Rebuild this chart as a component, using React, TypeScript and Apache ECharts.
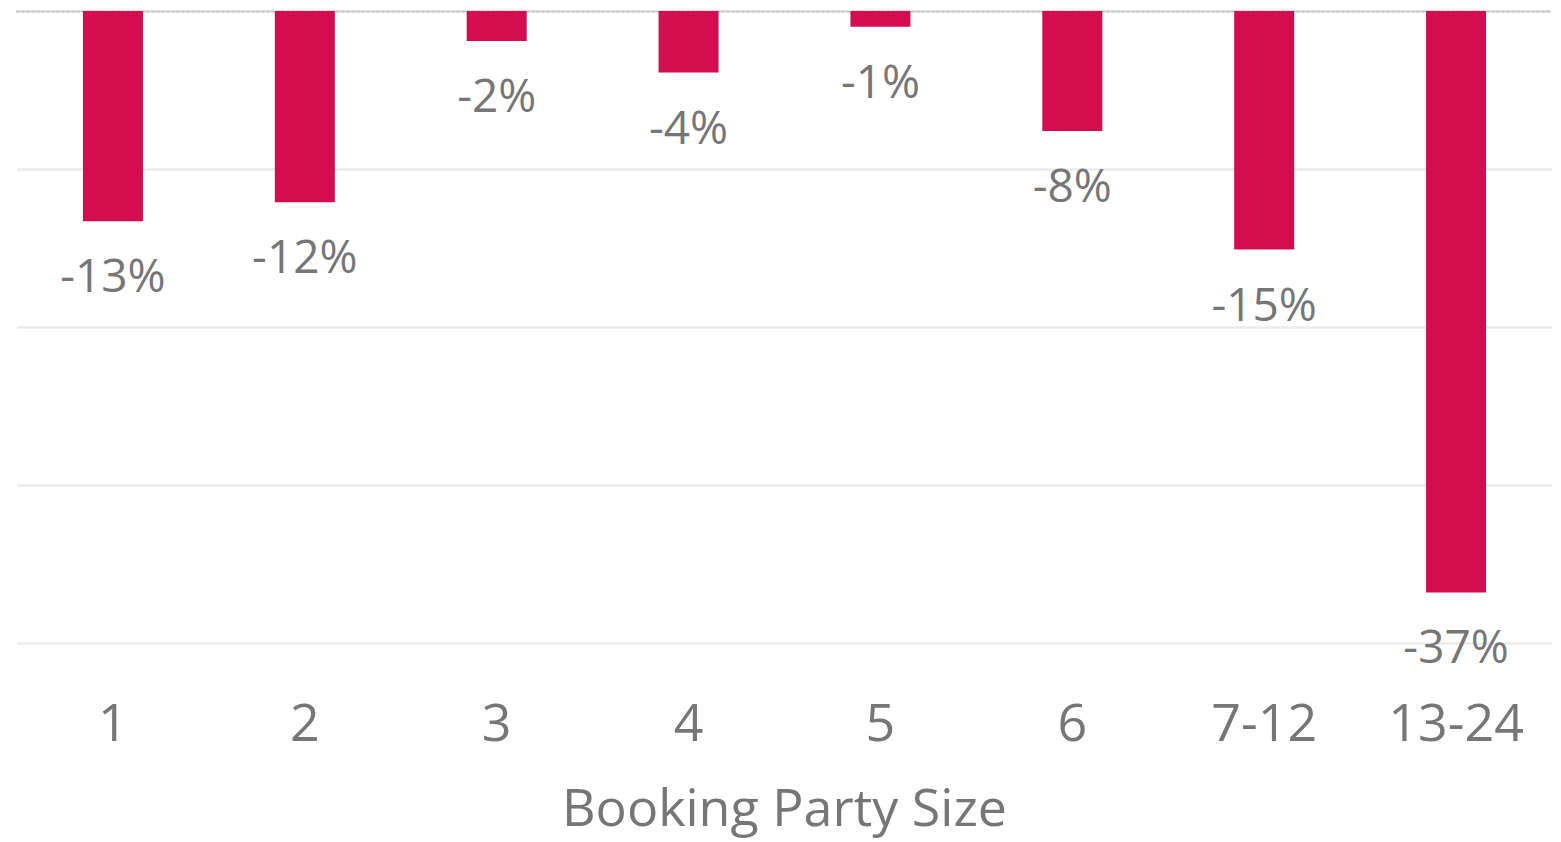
import React, { useEffect, useRef } from "react";
import * as echarts from "echarts";

const categories = ["1", "2", "3", "4", "5", "6", "7-12", "13-24"];
const changePct = [-13.3, -12.1, -1.9, -3.9, -1.0, -7.6, -15.1, -36.8];
const yTicks = [-40, -30, -20, -10, 0];
const axisTitle = "Booking Party Size";

const FONT = "'Open Sans', 'Liberation Sans', sans-serif";
const TEXT = "#767676";
const BAR = "#D40D4F";

export default function App() {
  const ref = useRef<HTMLDivElement>(null);
  useEffect(() => {
    if (!ref.current) return;
    const chart = echarts.init(ref.current, undefined, { renderer: "svg" });
    chart.setOption({
      animation: false,
      backgroundColor: "#ffffff",
      grid: { left: 17, right: 9, top: 11, bottom: 199, containLabel: false },
      xAxis: [
        {
          type: "category",
          data: categories,
          position: "bottom",
          axisLine: { show: false, onZero: false },
          axisTick: { show: false },
          axisLabel: {
            color: TEXT,
            fontFamily: FONT,
            fontSize: 52,
            margin: 51,
          },
          name: axisTitle,
          nameLocation: "middle",
          nameGap: 136,
          nameTextStyle: { color: TEXT, fontFamily: FONT, fontSize: 52 },
        },
        {
          type: "category",
          data: categories,
          position: "top",
          axisLine: {
            show: true,
            onZero: false,
            lineStyle: { color: "#cccccc", width: 2.5, type: "dotted" },
          },
          axisTick: { show: false },
          axisLabel: { show: false },
        },
      ],
      yAxis: {
        type: "value",
        min: yTicks[0],
        max: yTicks[yTicks.length - 1],
        interval: 10,
        axisLine: { show: false },
        axisTick: { show: false },
        axisLabel: { show: false },
        splitLine: {
          show: true,
          lineStyle: {
            color: ["#ebebeb", "#ebebeb", "#ebebeb", "#ebebeb", "rgba(0,0,0,0)"],
            width: 2.5,
          },
        },
      },
      series: [
        {
          type: "bar",
          xAxisIndex: 0,
          data: changePct,
          barWidth: 60,
          itemStyle: { color: BAR },
          label: {
            show: true,
            position: "bottom",
            distance: 30,
            color: TEXT,
            fontFamily: FONT,
            fontSize: 46,
            formatter: (p: any) => Math.round(p.value) + "%",
          },
        },
      ],
    });
    return () => chart.dispose();
  }, []);
  return (
    <div
      ref={ref}
      style={{ position: "absolute", left: 0, top: 0, width: 1561, height: 842 }}
    />
  );
}
